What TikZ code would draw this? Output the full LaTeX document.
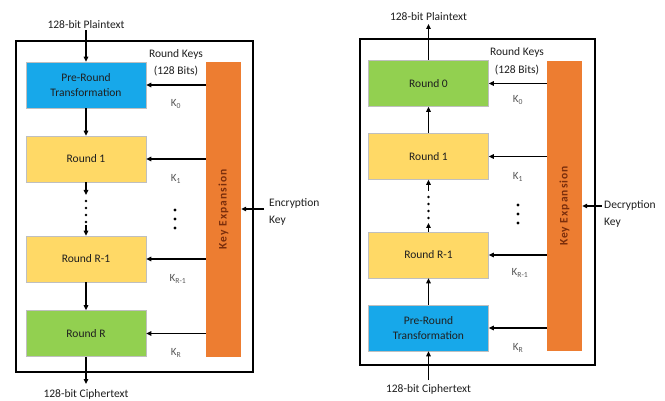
\documentclass[tikz,border=0pt]{standalone}
\usepackage{fontspec}
\setmainfont{Carlito}
\newfontfamily\keyfont[LetterSpace=9]{Carlito}
\usetikzlibrary{arrows.meta}
\definecolor{preblue}{HTML}{17A8EA}
\definecolor{roundyellow}{HTML}{FFD966}
\definecolor{roundgreen}{HTML}{92D050}
\definecolor{keyorange}{HTML}{ED7D31}
\definecolor{keytext}{HTML}{7A2E0C}
\definecolor{txt}{HTML}{1F1F1F}
\begin{document}
\begin{tikzpicture}[x=1pt,y=-1pt,
  stage/.style={rectangle, minimum width=120pt, minimum height=46pt, inner sep=0pt,
    align=center, font=\fontsize{11.5}{14.5}\selectfont, text=txt, draw=black!25, line width=0.6pt},
  bluebox/.style={stage, fill=preblue},
  yellowbox/.style={stage, fill=roundyellow},
  greenbox/.style={stage, fill=roundgreen},
  keybar/.style={rectangle, fill=keyorange, minimum width=35pt, inner sep=0pt},
  keylabel/.style={rotate=90, font=\keyfont\bfseries\fontsize{11.5}{13}\selectfont, text=keytext},
  lbl/.style={font=\fontsize{11.5}{13}\selectfont, text=txt, inner sep=1pt},
  klbl/.style={font=\fontsize{11}{12}\selectfont, text=txt!75, inner sep=0pt},
  side/.style={font=\fontsize{11.5}{17}\selectfont, text=txt, align=left, anchor=west, inner sep=0pt},
  arr/.style={-{Triangle[length=5pt,width=4.5pt]}, line width=1.6pt},
  frame/.style={draw, line width=2pt}]
\useasboundingbox[fill=white] (0,0) rectangle (665,401);

% ================= LEFT: Encryption =================
\draw[frame] (16,41) rectangle (253,372);
\node[bluebox]   (preL) at (86,85)  {Pre-Round\\Transformation};
\node[yellowbox] (r1L)  at (86,159) {Round 1};
\node[yellowbox] (rmL)  at (86,259) {Round R-1};
\node[greenbox]  (rRL)  at (86,333.5) {Round R};
\node[keybar, minimum height=295pt] (keyL) at (223.5,209.5) {};
\node[keylabel] (keyLt) at (keyL.center) {Key Expansion};

\node[lbl] (ptL) at (86,25) {128-bit Plaintext};
\node[lbl] (ctL) at (86,394) {128-bit Ciphertext};
\draw[arr] (ptL.south) -- (preL.north);
\draw[arr] (preL.south) -- (r1L.north);
\coordinate (dLa) at (86,195);
\coordinate (dLb) at (86,225);
\draw[arr] (r1L.south) -- (dLa);
\foreach \yy in {201,208,215,222} \fill (86,\yy) circle (1.4pt);
\draw[arr] (dLb) -- (rmL.north);
\draw[arr] (rmL.south) -- (rRL.north);
\coordinate (ctLa) at (86,384);
\draw[arr] (rRL.south) -- (ctLa);

\node[lbl] (rkL) at (176,54) {Round Keys};
\node[lbl] (rkL2) at (176,71) {(128 Bits)};
\draw[arr] (keyL.west |- preL.east) -- (preL.east);
\draw[arr] (keyL.west |- r1L.east) -- (r1L.east);
\draw[arr] (keyL.west |- rmL.east) -- (rmL.east);
\draw[arr] (keyL.west |- rRL.east) -- (rRL.east);
\node[klbl] (k0L) at (176,104) {K\textsubscript{0}};
\node[klbl] (k1L) at (176,179) {K\textsubscript{1}};
\node[klbl] (kmL) at (178,279) {K\textsubscript{R-1}};
\node[klbl] (kRL) at (176,353) {K\textsubscript{R}};
\foreach \yy in {210,219,228} \fill (175,\yy) circle (1.6pt);

\node[side] (encK) at (269,212) {Encryption\\Key};
\coordinate (encA) at (264,209);
\draw[arr] (encA) -- (keyL.east |- encA);

% ================= RIGHT: Decryption =================
\draw[frame] (360,39) rectangle (595,365);
\node[greenbox]  (r0R)  at (428.5,83.5) {Round 0};
\node[yellowbox] (r1R)  at (428.5,156.5) {Round 1};
\node[yellowbox] (rmR)  at (428.5,255) {Round R-1};
\node[bluebox]   (preR) at (428.5,328) {Pre-Round\\Transformation};
\node[keybar, minimum height=290pt] (keyR) at (564.5,206) {};
\node[keylabel] (keyRt) at (keyR.center) {Key Expansion};

\node[lbl] (ptR) at (428.5,17) {128-bit Plaintext};
\node[lbl] (ctR) at (428.5,389) {128-bit Ciphertext};
\coordinate (ptRa) at (428.5,24);
\draw[arr] (r0R.north) -- (ptRa);
\draw[arr] (r1R.north) -- (r0R.south);
\coordinate (dRa) at (428.5,191);
\coordinate (dRb) at (428.5,223);
\draw[arr] (dRa) -- (r1R.south);
\foreach \yy in {197,204,211,218} \fill (428.5,\yy) circle (1.4pt);
\draw[arr] (rmR.north) -- (dRb);
\draw[arr] (preR.north) -- (rmR.south);
\coordinate (ctRa) at (428.5,380);
\draw[arr] (ctRa) -- (preR.south);

\node[lbl] (rkR) at (517,52) {Round Keys};
\node[lbl] (rkR2) at (517,70) {(128 Bits)};
\draw[arr] (keyR.west |- r0R.east) -- (r0R.east);
\draw[arr] (keyR.west |- r1R.east) -- (r1R.east);
\draw[arr] (keyR.west |- rmR.east) -- (rmR.east);
\draw[arr] (keyR.west |- preR.east) -- (preR.east);
\node[klbl] (k0R) at (518,100) {K\textsubscript{0}};
\node[klbl] (k1R) at (518,177) {K\textsubscript{1}};
\node[klbl] (kmR) at (520,273) {K\textsubscript{R-1}};
\node[klbl] (kRR) at (518,348) {K\textsubscript{R}};
\foreach \yy in {205,214,223} \fill (518,\yy) circle (1.6pt);

\node[side] (decK) at (604,214) {Decryption\\Key};
\coordinate (decA) at (602,206);
\draw[arr] (decA) -- (keyR.east |- decA);
\end{tikzpicture}
\end{document}
